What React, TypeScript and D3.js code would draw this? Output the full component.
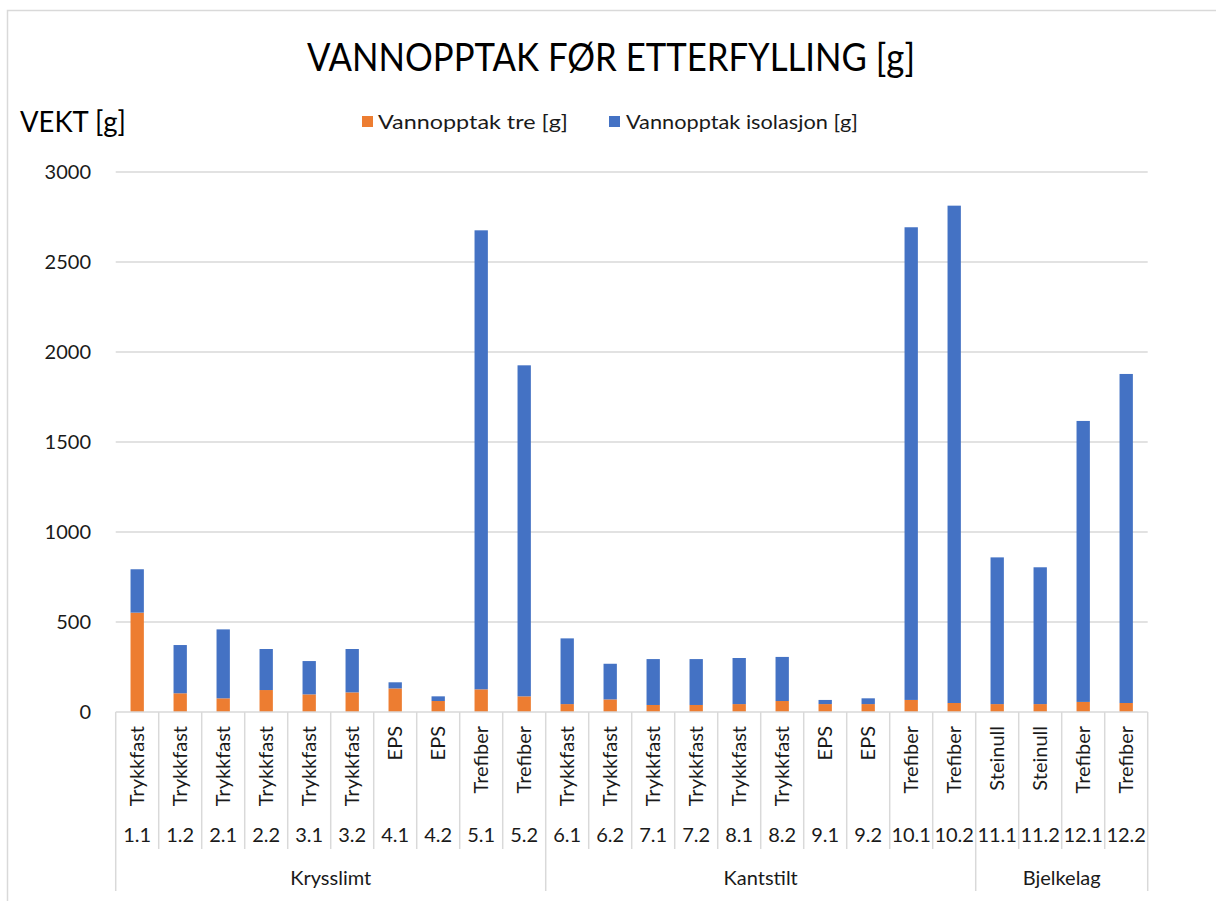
import React from "react";
import * as d3 from "d3";

const ids = ["1.1","1.2","2.1","2.2","3.1","3.2","4.1","4.2","5.1","5.2","6.1","6.2","7.1","7.2","8.1","8.2","9.1","9.2","10.1","10.2","11.1","11.2","12.1","12.2"];
const materials = ["Trykkfast","Trykkfast","Trykkfast","Trykkfast","Trykkfast","Trykkfast","EPS","EPS","Trefiber","Trefiber","Trykkfast","Trykkfast","Trykkfast","Trykkfast","Trykkfast","Trykkfast","EPS","EPS","Trefiber","Trefiber","Steinull","Steinull","Trefiber","Trefiber"];
const groupNames = ["Krysslimt","Kantstilt","Bjelkelag"];
const groupSizes = [10, 10, 4];
const vannTre = [552,104,76,122,98,109,131,61,126,87,44,70,39,39,44,61,44,44,67,50,44,44,56,50];
const vannIsolasjon = [241,268,383,228,185,241,34,26,2550,1839,365,198,255,255,256,245,23,32,2626,2763,815,760,1561,1828];
const yTicks = [0,500,1000,1500,2000,2500,3000];
const seriesNames = ["Vannopptak tre [g]","Vannopptak isolasjon [g]"];
const colors = ["#ED7D31","#4472C4"];

const FONT = "Lato, 'Open Sans', sans-serif";
const TXT = "#1a1a1a";
const GRID = "#d9d9d9";

export default function App() {
  const left = 115.7, right = 1147.7, top = 172, bottom = 712;
  const x = d3.scaleBand<string>().domain(ids).range([left, right]).paddingInner(0).paddingOuter(0);
  const y = d3.scaleLinear().domain([0, 3000]).range([bottom, top]);
  const rows = ids.map((id, i) => ({ id, tre: vannTre[i], iso: vannIsolasjon[i] }));
  const stacked = d3.stack<any>().keys(["tre", "iso"])(rows);
  const bw = x.bandwidth() * 0.31;

  const bounds: number[] = [0];
  groupSizes.forEach((s) => bounds.push(bounds[bounds.length - 1] + s));
  const step = x.step();

  return (
    <svg width={1216} height={901} style={{ position: "absolute", left: 0, top: 0, background: "#fff" }}>
      <rect x={7.5} y={10.5} width={1230} height={900} fill="#fff" stroke={GRID} strokeWidth={1.5} />
      <text x={611} y={71} textAnchor="middle" fontFamily={FONT} fontWeight={400} fontSize={38} fill="#000" textLength={608} lengthAdjust="spacingAndGlyphs">
        VANNOPPTAK FØR ETTERFYLLING [g]
      </text>
      <text x={20} y={132} fontFamily={FONT} fontWeight={400} fontSize={29} fill="#000" textLength={106} lengthAdjust="spacingAndGlyphs">
        VEKT [g]
      </text>
      <rect x={362} y={116} width={11} height={11} fill={colors[0]} />
      <text x={378} y={129} fontFamily={FONT} fontSize={20} fill={TXT} textLength={190} lengthAdjust="spacingAndGlyphs">{seriesNames[0]}</text>
      <rect x={609} y={116} width={11} height={11} fill={colors[1]} />
      <text x={626} y={129} fontFamily={FONT} fontSize={20} fill={TXT} textLength={232} lengthAdjust="spacingAndGlyphs">{seriesNames[1]}</text>

      {yTicks.filter((t) => t > 0).map((t) => (
        <line key={t} x1={left} x2={right} y1={y(t)} y2={y(t)} stroke={GRID} strokeWidth={1.5} />
      ))}
      {yTicks.map((t) => (
        <text key={"l" + t} x={91} y={y(t) + 7} textAnchor="end" fontFamily={FONT} fontSize={20} fill={TXT}>{t}</text>
      ))}

      {stacked.map((s, si) => (
        <g key={si}>
          {s.map((d, i) => (
            <rect key={i} x={(x(ids[i]) as number) + (step - bw) / 2} width={bw} y={y(d[1])} height={y(d[0]) - y(d[1])} fill={colors[si]} />
          ))}
        </g>
      ))}

      <line x1={left} x2={right} y1={bottom} y2={bottom} stroke={GRID} strokeWidth={1.5} />
      {ids.map((id, i) => {
        const isBound = bounds.includes(i);
        return <line key={"s" + i} x1={x(id)} x2={x(id)} y1={bottom} y2={isBound ? 891 : 849} stroke={GRID} strokeWidth={1.5} />;
      })}
      <line x1={right} x2={right} y1={bottom} y2={891} stroke={GRID} strokeWidth={1.5} />
      {ids.map((id, i) => {
        const cx = (x(id) as number) + step / 2;
        return (
          <g key={"t" + i}>
            <text transform={`translate(${cx + 7},726) rotate(-90)`} textAnchor="end" fontFamily={FONT} fontSize={20} fill={TXT}>{materials[i]}</text>
            <text x={cx} y={842} textAnchor="middle" fontFamily={FONT} fontSize={20} fill={TXT}>{id}</text>
          </g>
        );
      })}
      {groupNames.map((g, gi) => {
        const x0 = left + bounds[gi] * step;
        const x1 = left + bounds[gi + 1] * step;
        return <text key={g} x={(x0 + x1) / 2} y={885} textAnchor="middle" fontFamily={FONT} fontSize={20} fill={TXT}>{g}</text>;
      })}
    </svg>
  );
}
